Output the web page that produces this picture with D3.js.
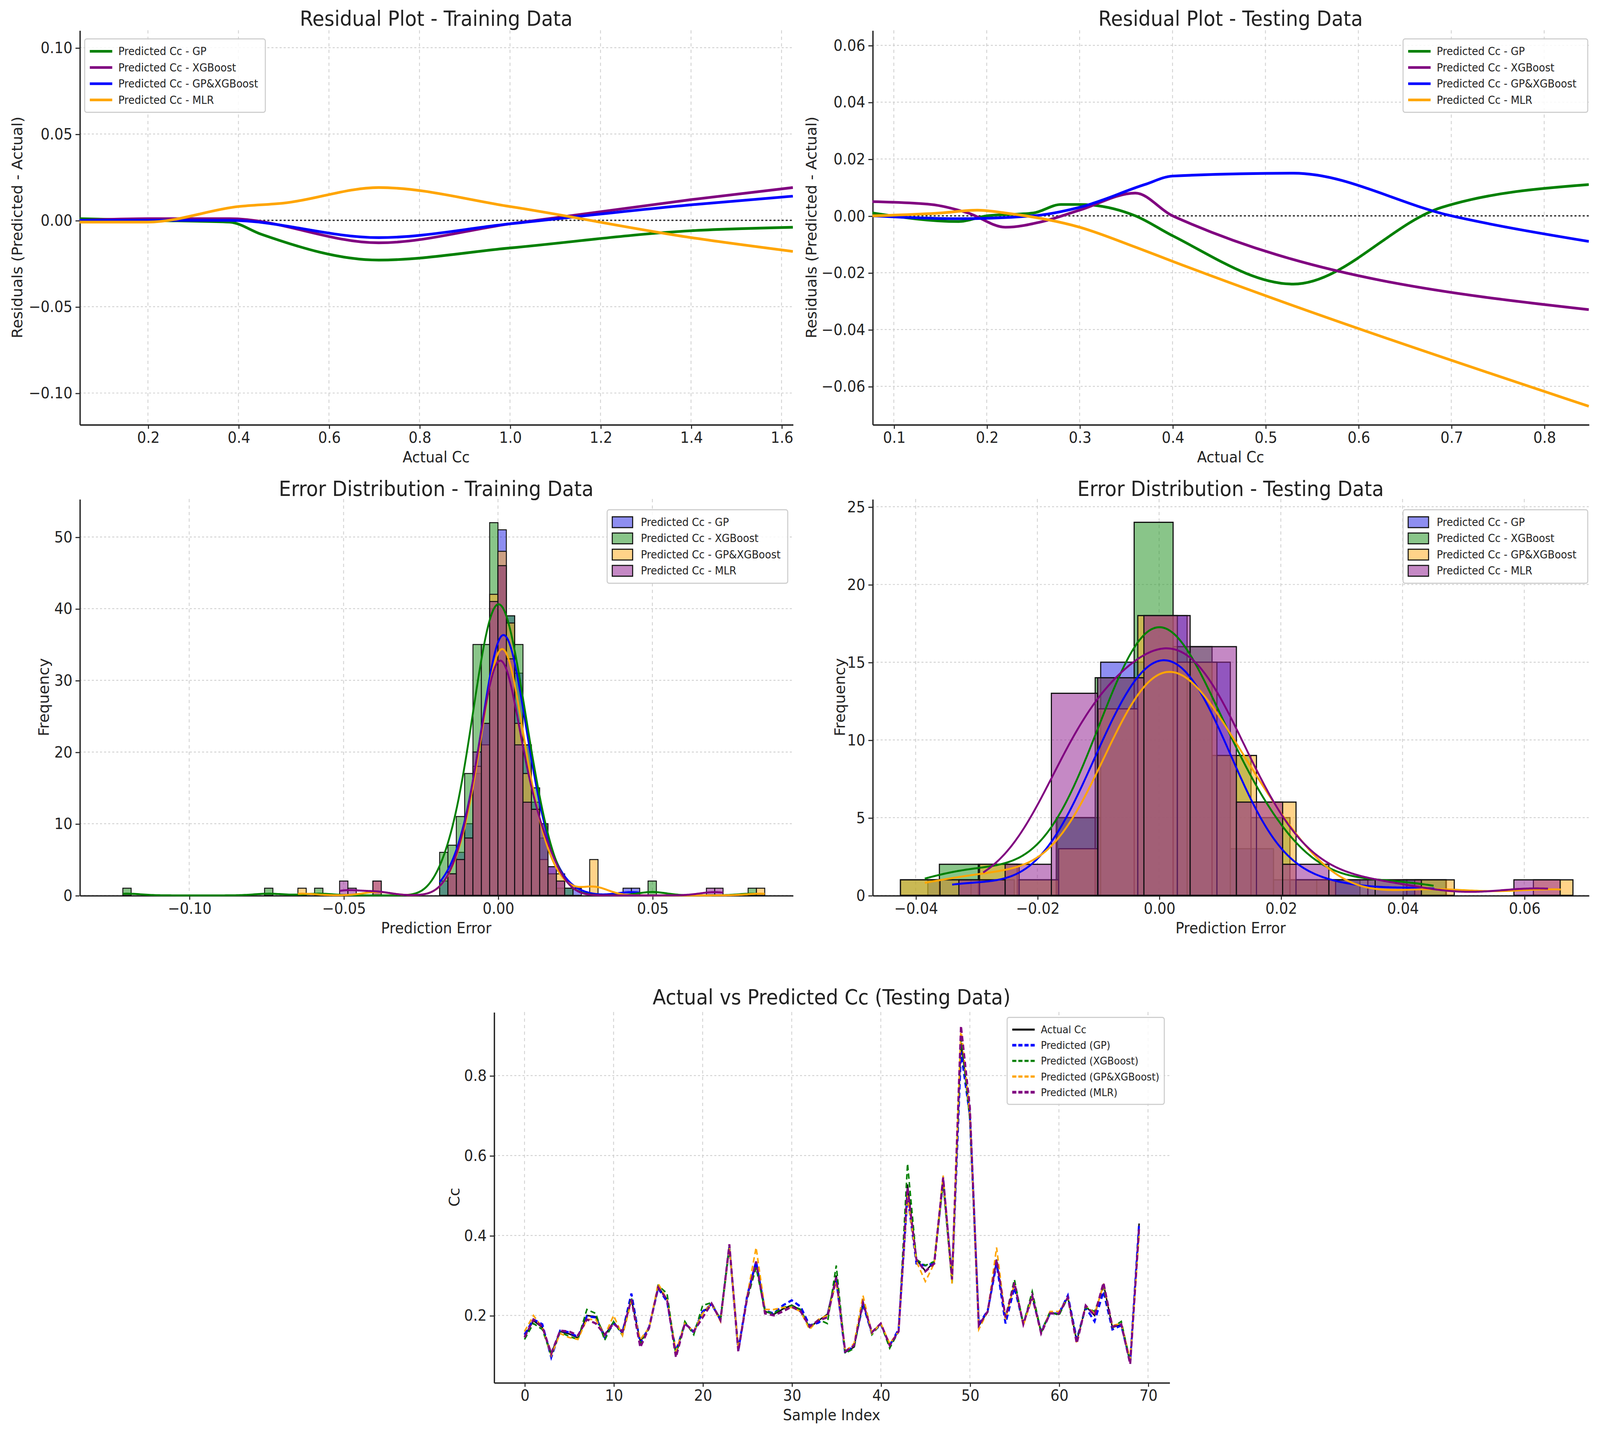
<!DOCTYPE html>
<html><head><meta charset="utf-8">
<script src="https://cdn.jsdelivr.net/npm/d3@7"></script>
<style>html,body{margin:0;padding:0;overflow:hidden;background:#fff;width:100%;height:100%}svg{display:block;width:100vw;height:100vh}text{font-family:"DejaVu Sans",sans-serif;fill:#222}</style>
</head><body>
<script>
// ---------- data ----------
const residTrainX = {
  gp:  [0.049,0.2,0.38,0.45,0.71,1.0,1.4,1.625],
  xgb: [0.049,0.2,0.38,0.71,1.0,1.4,1.625],
  gpx: [0.049,0.2,0.38,0.71,1.0,1.4,1.625],
  mlr: [0.049,0.2,0.4,0.5,0.71,1.0,1.4,1.625]
};
const residTrainY = {
  gp:  [0.001,0,-0.001,-0.008,-0.023,-0.016,-0.006,-0.004],
  xgb: [0,0.001,0.001,-0.013,-0.002,0.012,0.019],
  gpx: [0,0,0,-0.01,-0.002,0.009,0.014],
  mlr: [-0.001,-0.001,0.008,0.01,0.019,0.008,-0.01,-0.018]
};
const residTestX = {
  gp:  [0.077,0.17,0.2,0.25,0.28,0.3,0.36,0.4,0.53,0.69,0.848],
  xgb: [0.077,0.14,0.18,0.22,0.26,0.3,0.36,0.4,0.848],
  gpx: [0.077,0.17,0.25,0.3,0.37,0.4,0.53,0.7,0.848],
  mlr: [0.077,0.15,0.19,0.22,0.3,0.36,0.4,0.848]
};
const residTestY = {
  gp:  [0.001,-0.002,0,0.001,0.004,0.004,0,-0.007,-0.024,0.003,0.011],
  xgb: [0.005,0.004,0.001,-0.004,-0.002,0.002,0.008,0,-0.033],
  gpx: [0,-0.001,0,0.003,0.011,0.014,0.015,0,-0.009],
  mlr: [0,0.001,0.002,0.001,-0.004,-0.011,-0.016,-0.067]
};
const trainBinWidth = 0.0027;
const trainBins = {
  gp:  [[-7,2],[-6,3],[-5,6],[-4,10],[-3,17],[-2,24],[-1,40],[0,51],[1,39],[2,31],[3,21],[4,13],[5,8],[6,4],[7,2],[8,1],[9,1],[15,1],[16,1]],
  xgb: [[-45,1],[-28,1],[-22,1],[-7,6],[-6,7],[-5,11],[-4,17],[-3,35],[-2,35],[-1,52],[0,46],[1,39],[2,35],[3,21],[4,15],[5,10],[6,3],[7,1],[8,1],[18,2],[30,1]],
  gpx: [[-24,1],[-15,2],[-6,3],[-5,5],[-4,8],[-3,18],[-2,21],[-1,42],[0,48],[1,38],[2,24],[3,17],[4,12],[5,5],[6,3],[7,3],[11,5],[31,1]],
  mlr: [[-19,2],[-18,1],[-15,2],[-6,3],[-5,5],[-4,8],[-3,20],[-2,24],[-1,41],[0,46],[1,33],[2,21],[3,13],[4,12],[5,10],[6,4],[7,2],[25,1],[26,1]]
};
const testBinStart = {gp:-0.038, xgb:-0.0425, gpx:-0.0425, mlr:-0.0405};
const testBinWidth = {gp:0.0071, xgb:0.0064, gpx:0.0065, mlr:0.0076};
const testCounts = {
  gp:  [1,1,0,5,15,18,15,3,1,1,0,1],
  xgb: [1,2,2,1,5,14,24,16,9,5,1,1,1,1],
  gpx: [1,1,2,1,3,12,18,15,9,6,1,0,0,1,0,0,1],
  mlr: [0,1,2,13,14,18,16,6,2,1,1,0,0,1]
};
const actual = [0.148,0.187,0.17,0.105,0.16,0.154,0.144,0.2,0.197,0.15,0.184,0.155,0.24,0.135,0.17,0.272,0.24,0.105,0.18,0.16,0.207,0.23,0.187,0.377,0.115,0.246,0.33,0.21,0.203,0.216,0.226,0.213,0.17,0.187,0.203,0.3,0.108,0.121,0.233,0.157,0.18,0.128,0.16,0.528,0.341,0.311,0.334,0.548,0.292,0.882,0.711,0.174,0.21,0.338,0.193,0.279,0.177,0.249,0.157,0.207,0.203,0.246,0.135,0.223,0.2,0.279,0.17,0.177,0.082,0.43];
const predGP = [0.152,0.19,0.178,0.095,0.162,0.158,0.146,0.198,0.195,0.145,0.18,0.158,0.255,0.13,0.172,0.268,0.235,0.11,0.18,0.158,0.21,0.228,0.19,0.372,0.112,0.25,0.335,0.212,0.205,0.225,0.238,0.222,0.175,0.182,0.2,0.29,0.105,0.125,0.228,0.155,0.178,0.125,0.165,0.5,0.33,0.325,0.33,0.54,0.29,0.86,0.7,0.178,0.212,0.33,0.18,0.27,0.18,0.245,0.16,0.205,0.205,0.25,0.14,0.22,0.185,0.26,0.165,0.175,0.085,0.43];
const predXGB = [0.14,0.18,0.165,0.1,0.158,0.148,0.14,0.215,0.205,0.138,0.185,0.15,0.245,0.13,0.168,0.275,0.255,0.1,0.185,0.152,0.225,0.232,0.19,0.37,0.12,0.24,0.32,0.21,0.205,0.22,0.225,0.215,0.168,0.19,0.18,0.325,0.105,0.118,0.235,0.152,0.18,0.118,0.16,0.58,0.34,0.325,0.335,0.53,0.28,0.9,0.69,0.175,0.208,0.34,0.195,0.29,0.178,0.26,0.158,0.21,0.2,0.245,0.138,0.22,0.21,0.27,0.17,0.185,0.085,0.41];
const predGPX = [0.16,0.2,0.17,0.1,0.155,0.145,0.14,0.19,0.19,0.15,0.2,0.15,0.235,0.14,0.17,0.28,0.24,0.11,0.18,0.16,0.205,0.23,0.185,0.37,0.115,0.25,0.37,0.215,0.215,0.22,0.22,0.21,0.165,0.19,0.2,0.285,0.11,0.13,0.25,0.155,0.18,0.13,0.16,0.5,0.335,0.285,0.33,0.55,0.28,0.92,0.7,0.165,0.21,0.37,0.19,0.28,0.175,0.245,0.155,0.21,0.21,0.245,0.13,0.225,0.205,0.275,0.175,0.18,0.09,0.4];
const predMLR = [0.145,0.19,0.172,0.105,0.162,0.16,0.15,0.19,0.18,0.152,0.18,0.16,0.24,0.12,0.17,0.27,0.24,0.095,0.18,0.16,0.195,0.23,0.188,0.378,0.11,0.245,0.335,0.205,0.2,0.21,0.222,0.21,0.172,0.188,0.195,0.295,0.11,0.125,0.232,0.158,0.18,0.125,0.16,0.52,0.34,0.31,0.33,0.545,0.29,0.925,0.72,0.175,0.21,0.34,0.195,0.282,0.178,0.25,0.155,0.205,0.205,0.245,0.13,0.225,0.2,0.282,0.172,0.178,0.078,0.42];
const residLabels = ["Predicted Cc - GP","Predicted Cc - XGBoost","Predicted Cc - GP&XGBoost","Predicted Cc - MLR"];
const bottomLabels = ["Actual Cc","Predicted (GP)","Predicted (XGBoost)","Predicted (GP&XGBoost)","Predicted (MLR)"];
const keys = ["gp","xgb","gpx","mlr"];

// ---------- drawing ----------
const svg = d3.select("body").append("svg").attr("viewBox","0 0 1568 1324").attr("preserveAspectRatio","none");
const resColors = {gp:"#008000", xgb:"#800080", gpx:"#0000ff", mlr:"#ffa500"};
const histColors = {gp:"#0000ff", xgb:"#008000", gpx:"#ffa500", mlr:"#800080"};
const histFill = {gp:"rgba(50,50,230,0.55)", xgb:"rgba(40,150,40,0.55)", gpx:"rgba(255,175,40,0.55)", mlr:"rgba(150,40,150,0.55)"};

function panel(o){
  const g = svg.append("g");
  const x = d3.scaleLinear().domain(o.xd).range([o.l,o.r]);
  const y = d3.scaleLinear().domain(o.yd).range([o.b,o.t]);
  g.append("g").selectAll("line").data(o.xt).join("line").attr("x1",d=>x(d)).attr("x2",d=>x(d)).attr("y1",o.t).attr("y2",o.b)
    .attr("stroke","#cfcfcf").attr("stroke-width",0.8).attr("stroke-dasharray","3,3");
  g.append("g").selectAll("line").data(o.yt).join("line").attr("y1",d=>y(d)).attr("y2",d=>y(d)).attr("x1",o.l).attr("x2",o.r)
    .attr("stroke","#cfcfcf").attr("stroke-width",0.8).attr("stroke-dasharray","2,2");
  const ax = g.append("g").attr("transform",`translate(0,${o.b})`).call(d3.axisBottom(x).tickValues(o.xt).tickFormat(o.xf).tickSize(4).tickSizeOuter(0));
  const ay = g.append("g").attr("transform",`translate(${o.l},0)`).call(d3.axisLeft(y).tickValues(o.yt).tickFormat(o.yf).tickSize(4).tickSizeOuter(0));
  [ax,ay].forEach(a=>{a.selectAll("text").attr("font-size",14).style("font-family","DejaVu Sans").attr("fill","#222");
    a.select(".domain").attr("stroke","#222").attr("stroke-width",1.3); a.selectAll(".tick line").attr("stroke","#222");});
  g.append("text").attr("x",(o.l+o.r)/2).attr("y",o.ty).attr("text-anchor","middle").attr("font-size",19).text(o.title);
  g.append("text").attr("x",(o.l+o.r)/2).attr("y",o.b+35).attr("text-anchor","middle").attr("font-size",14).text(o.xl);
  g.append("text").attr("transform",`translate(${o.yl[1]},${(o.t+o.b)/2}) rotate(-90)`).attr("text-anchor","middle").attr("font-size",14).text(o.yl[0]);
  return {g:g.append("g"),x,y};
}
function legend(x0,y0,w,items,step,fs,kind){
  const g = svg.append("g");
  g.append("rect").attr("x",x0).attr("y",y0).attr("width",w).attr("height",items.length*step+8).attr("fill","rgba(255,255,255,0.85)").attr("stroke","#ccc").attr("rx",2);
  items.forEach((it,i)=>{
    const cy = y0+4+step*i+step/2;
    if(kind==="rect") g.append("rect").attr("x",x0+5).attr("y",cy-5).attr("width",20).attr("height",10).attr("fill",it.fill).attr("stroke","#111").attr("stroke-width",1);
    else g.append("line").attr("x1",x0+5).attr("x2",x0+27).attr("y1",cy).attr("y2",cy).attr("stroke",it.c).attr("stroke-width",it.w||2.5).attr("stroke-dasharray",it.dash||null);
    g.append("text").attr("x",x0+33).attr("y",cy+3.5).attr("font-size",fs).text(it.label);
  });
}
const fmt2 = d3.format(".2f"), minus = ()=>d=>fmt2(d).replace("-","\u2212");

let p = panel({l:78,r:777,t:28,b:393,xd:[0.049,1.625],yd:[-0.1182,0.1101],xt:[0.2,0.4,0.6,0.8,1.0,1.2,1.4,1.6],yt:[-0.10,-0.05,0,0.05,0.10],
  xf:d3.format(".1f"),yf:minus(),title:"Residual Plot - Training Data",ty:24,xl:"Actual Cc",yl:["Residuals (Predicted - Actual)",22]});
p.g.append("line").attr("x1",78).attr("x2",777).attr("y1",p.y(0)).attr("y2",p.y(0)).attr("stroke","#333").attr("stroke-dasharray","2,2").attr("stroke-width",1.3);
keys.forEach(k=>{
  const pts = residTrainX[k].map((v,i)=>[v,residTrainY[k][i]]);
  p.g.append("path").attr("d",d3.line().x(d=>p.x(d[0])).y(d=>p.y(d[1])).curve(d3.curveMonotoneX)(pts)).attr("fill","none").attr("stroke",resColors[k]).attr("stroke-width",2.5);
});
legend(83,36,177,keys.map((k,i)=>({c:resColors[k],label:residLabels[i]})),15,10);

p = panel({l:855,r:1557,t:28,b:393,xd:[0.077,0.848],yd:[-0.0734,0.0653],xt:[0.1,0.2,0.3,0.4,0.5,0.6,0.7,0.8],yt:[-0.06,-0.04,-0.02,0,0.02,0.04,0.06],
  xf:d3.format(".1f"),yf:minus(),title:"Residual Plot - Testing Data",ty:24,xl:"Actual Cc",yl:["Residuals (Predicted - Actual)",800]});
p.g.append("line").attr("x1",855).attr("x2",1557).attr("y1",p.y(0)).attr("y2",p.y(0)).attr("stroke","#333").attr("stroke-dasharray","2,2").attr("stroke-width",1.3);
keys.forEach(k=>{
  const pts = residTestX[k].map((v,i)=>[v,residTestY[k][i]]);
  p.g.append("path").attr("d",d3.line().x(d=>p.x(d[0])).y(d=>p.y(d[1])).curve(d3.curveMonotoneX)(pts)).attr("fill","none").attr("stroke",resColors[k]).attr("stroke-width",2.5);
});
legend(1375,36,181,keys.map((k,i)=>({c:resColors[k],label:residLabels[i]})),15,10);

function kde(bins, lo, hi, bw, scale){
  const pts=[];
  for(let i=0;i<=400;i++){
    const xv = lo+(hi-lo)*i/400;
    let s=0; bins.forEach(b=>{const c=(b[0]+b[1])/2; const z=(xv-c)/bw; s+=b[2]*Math.exp(-0.5*z*z);});
    pts.push([xv, s/(bw*Math.sqrt(2*Math.PI))*scale]);
  }
  return pts;
}

p = panel({l:78,r:777,t:462,b:829,xd:[-0.1355,0.0955],yd:[0,55.3],xt:[-0.10,-0.05,0,0.05],yt:[0,10,20,30,40,50],
  xf:minus(),yf:d3.format("d"),title:"Error Distribution - Training Data",ty:459,xl:"Prediction Error",yl:["Frequency",48]});
keys.forEach(k=>{
  const bins = trainBins[k].map(b=>[b[0]*trainBinWidth,(b[0]+1)*trainBinWidth,b[1]]);
  p.g.append("g").selectAll("rect").data(bins).join("rect").attr("x",d=>p.x(d[0])).attr("width",d=>p.x(d[1])-p.x(d[0])).attr("y",d=>p.y(d[2])).attr("height",d=>p.y(0)-p.y(d[2]))
    .attr("fill",histFill[k]).attr("stroke","#111").attr("stroke-width",0.9);
});
keys.forEach(k=>{
  const bins = trainBins[k].map(b=>[b[0]*trainBinWidth,(b[0]+1)*trainBinWidth,b[1]]);
  const lo=d3.min(bins,b=>b[0]), hi=d3.max(bins,b=>b[1]);
  const pts = kde(bins,lo,hi,0.0046,trainBinWidth);
  p.g.append("path").attr("d",d3.line().x(d=>p.x(d[0])).y(d=>p.y(d[1]))(pts)).attr("fill","none").attr("stroke",histColors[k]).attr("stroke-width",1.8);
});
legend(595,472,177,keys.map((k,i)=>({fill:histFill[k],label:residLabels[i]})),15,10,"rect");

p = panel({l:855,r:1557,t:462,b:829,xd:[-0.0471,0.0706],yd:[0,25.5],xt:[-0.04,-0.02,0,0.02,0.04,0.06],yt:[0,5,10,15,20,25],
  xf:minus(),yf:d3.format("d"),title:"Error Distribution - Testing Data",ty:459,xl:"Prediction Error",yl:["Frequency",828]});
keys.forEach(k=>{
  const bins = testCounts[k].map((c,i)=>[testBinStart[k]+i*testBinWidth[k],testBinStart[k]+(i+1)*testBinWidth[k],c]).filter(b=>b[2]>0);
  p.g.append("g").selectAll("rect").data(bins).join("rect").attr("x",d=>p.x(d[0])).attr("width",d=>p.x(d[1])-p.x(d[0])).attr("y",d=>p.y(d[2])).attr("height",d=>p.y(0)-p.y(d[2]))
    .attr("fill",histFill[k]).attr("stroke","#111").attr("stroke-width",1.1);
});
keys.forEach(k=>{
  const bins = testCounts[k].map((c,i)=>[testBinStart[k]+i*testBinWidth[k],testBinStart[k]+(i+1)*testBinWidth[k],c]).filter(b=>b[2]>0);
  const lo=d3.min(bins,b=>b[0]), hi=d3.max(bins,b=>b[1]);
  const pts = kde(bins,lo+0.004,hi-0.002,0.0068,testBinWidth[k]);
  p.g.append("path").attr("d",d3.line().x(d=>p.x(d[0])).y(d=>p.y(d[1]))(pts)).attr("fill","none").attr("stroke",histColors[k]).attr("stroke-width",1.8);
});
legend(1375,472,181,keys.map((k,i)=>({fill:histFill[k],label:residLabels[i]})),15,10,"rect");

p = panel({l:484,r:1146,t:937,b:1280,xd:[-3.44,72.4],yd:[0.0324,0.959],xt:[0,10,20,30,40,50,60,70],yt:[0.2,0.4,0.6,0.8],
  xf:d3.format("d"),yf:d3.format(".1f"),title:"Actual vs Predicted Cc (Testing Data)",ty:930,xl:"Sample Index",yl:["Cc",450]});
const series = [[actual,"#111",null,1.4],[predGP,"#0000ff","5,3",2],[predXGB,"#008000","5,3",1.5],[predGPX,"#ffa500","5,3",1.5],[predMLR,"#800080","5,3",2]];
series.forEach(s=>{
  p.g.append("path").attr("d",d3.line().x((d,i)=>p.x(i)).y(d=>p.y(d))(s[0])).attr("fill","none").attr("stroke",s[1]).attr("stroke-width",s[3]).attr("stroke-dasharray",s[2]);
});
legend(987,942,154,series.map((s,i)=>({c:s[1],w:s[3]+0.5,dash:s[2]?"4,2":null,label:bottomLabels[i]})),14.5,9.5);
</script>
</body></html>
